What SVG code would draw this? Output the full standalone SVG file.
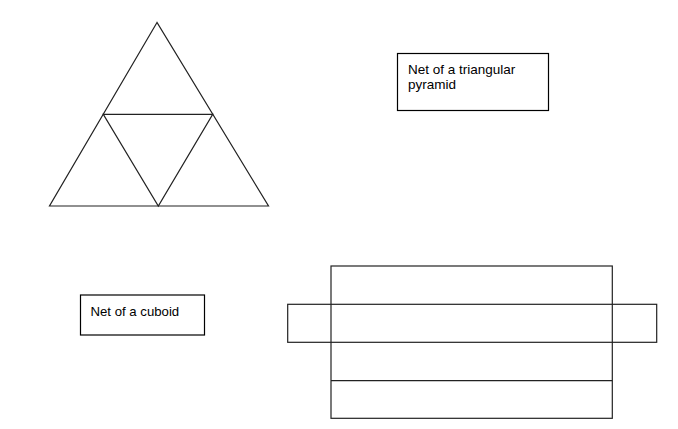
<svg xmlns="http://www.w3.org/2000/svg" width="678" height="429" viewBox="0 0 678 429">
<style>
.ln{fill:none;stroke:#222;stroke-width:1.2}
.bx{fill:#fff;stroke:#000;stroke-width:1.2}
.t{font-family:"Liberation Sans",Arial,sans-serif;font-size:13.5px;fill:#000}
</style>
<rect width="678" height="429" fill="#fff"/>
<g id="pyramid-net">
<polygon class="ln" points="157,22.5 49.5,206 268.5,206"/>
<polygon class="ln" points="103.3,114.3 212.7,114.3 158.3,206"/>
</g>
<g id="label-pyramid">
<rect class="bx" x="397.5" y="53.5" width="151" height="57"/>
<text class="t" x="408" y="74">Net of a triangular</text>
<text class="t" x="408" y="89">pyramid</text>
</g>
<g id="label-cuboid">
<rect class="bx" x="80.5" y="295" width="124" height="40"/>
<text class="t" x="90.5" y="315.5" style="font-size:13.2px">Net of a cuboid</text>
</g>
<g id="cuboid-net">
<rect class="ln" x="331" y="266" width="281.3" height="152.3"/>
<rect class="ln" x="287.7" y="304.3" width="369" height="38"/>
<line class="ln" x1="331" y1="380.7" x2="612.3" y2="380.7"/>
</g>
</svg>
